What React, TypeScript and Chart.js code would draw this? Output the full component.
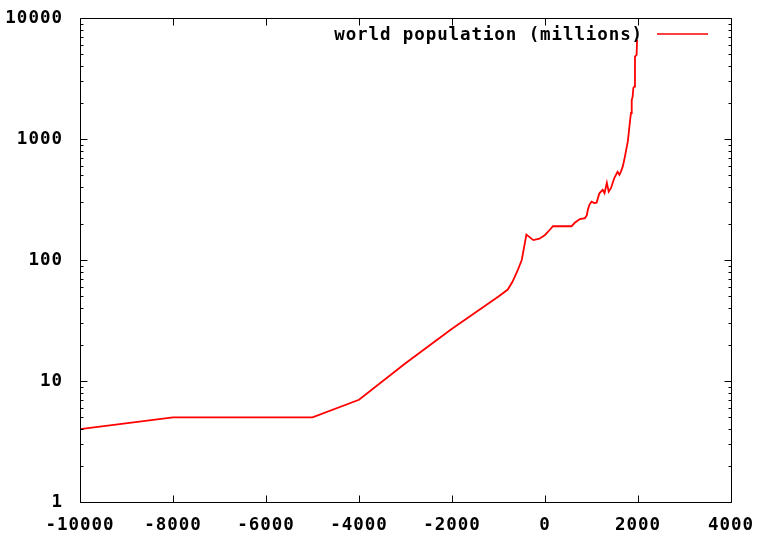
import React, { useEffect, useRef } from "react";
import { Chart, registerables } from "chart.js";

Chart.register(...registerables);

const legendLabel = "world population (millions)";

const years = [
  -10000, -8000, -5000, -4000, -3000, -2000, -1000, -800, -700, -600, -500, -400,
  -250, -120, 0, 100, 170, 570, 640, 750, 860, 900, 920, 955, 1000, 1060, 1110,
  1170, 1240, 1280, 1330, 1370, 1420, 1490, 1560, 1600, 1630, 1670, 1705, 1745,
  1780, 1800, 1830, 1850, 1865, 1885, 1900, 1920, 1935, 1970, 1980,
];

const population = [
  4, 5, 5, 7, 14, 27, 50, 57, 66, 80, 100, 162,
  146, 150, 161, 177, 190, 190, 203, 218, 222, 235, 259, 286, 303, 295, 298,
  356, 380, 356, 434, 367, 394, 475, 535, 506, 535, 588, 673, 810,
  950, 1110, 1430, 1640, 2100, 2240, 2640, 2710, 4800, 4950, 6600,
];

const xTicks = [-10000, -8000, -6000, -4000, -2000, 0, 2000, 4000];
const yTicks = [1, 10, 100, 1000, 10000];
const yMinorFactors = [2, 3, 4, 5, 6, 7, 8, 9];

const FONT_FAMILY = "'DejaVu Sans Mono', 'Liberation Mono', monospace";

const spacingPlugin = {
  id: "letterSpacing",
  beforeUpdate(chart: any) {
    (chart.ctx as any).letterSpacing = "1px";
  },
  beforeDraw(chart: any) {
    (chart.ctx as any).letterSpacing = "1px";
  },
};

const framePlugin = {
  id: "gnuplotFrame",
  afterDraw(chart: any) {
    const { ctx, chartArea, scales } = chart;
    const { left, right, top, bottom } = chartArea;
    const xs = scales.x;
    const ys = scales.y;
    ctx.save();
    ctx.strokeStyle = "#000";
    ctx.lineWidth = 1;
    ctx.beginPath();
    const L = Math.round(left) + 0.5;
    const R = Math.round(right) + 0.5;
    const T = Math.round(top) + 0.5;
    const B = Math.round(bottom) + 0.5;
    ctx.rect(L, T, R - L, B - T);
    const major = 7;
    const minor = 3;
    xTicks.forEach((v) => {
      const px = Math.round(xs.getPixelForValue(v)) + 0.5;
      ctx.moveTo(px, B);
      ctx.lineTo(px, B - major);
      ctx.moveTo(px, T);
      ctx.lineTo(px, T + major);
    });
    yTicks.forEach((v) => {
      const py = Math.round(ys.getPixelForValue(v)) + 0.5;
      ctx.moveTo(L, py);
      ctx.lineTo(L + major, py);
      ctx.moveTo(R, py);
      ctx.lineTo(R - major, py);
    });
    yTicks.slice(0, -1).forEach((d) => {
      yMinorFactors.forEach((k) => {
        const py = Math.round(ys.getPixelForValue(d * k)) + 0.5;
        ctx.moveTo(L, py);
        ctx.lineTo(L + minor, py);
        ctx.moveTo(R, py);
        ctx.lineTo(R - minor, py);
      });
    });
    ctx.stroke();

    // legend (gnuplot style: text left, sample right)
    const ly = Math.round(top) + 16;
    ctx.font = `bold 17.5px ${FONT_FAMILY}`;
    (ctx as any).letterSpacing = "0.9px";
    ctx.fillStyle = "#000";
    ctx.textAlign = "right";
    ctx.textBaseline = "middle";
    const ds = chart.data.datasets[0];
    ctx.fillText(ds.label, right - 88, ly + 1);
    (ctx as any).letterSpacing = "0px";
    ctx.strokeStyle = ds.borderColor;
    ctx.lineWidth = 1.5;
    ctx.beginPath();
    ctx.moveTo(right - 74, ly);
    ctx.lineTo(right - 23, ly);
    ctx.stroke();
    ctx.restore();
  },
};

export default function App() {
  const ref = useRef<HTMLCanvasElement | null>(null);

  useEffect(() => {
    if (!ref.current) return;
    const chart = new Chart(ref.current, {
      type: "line",
      data: {
        datasets: [
          {
            label: legendLabel,
            data: years.map((y, i) => ({ x: y, y: population[i] })),
            borderColor: "#ff0000",
            borderWidth: 1.8,
            pointRadius: 0,
            tension: 0,
            fill: false,
          },
        ],
      },
      options: {
        animation: false,
        responsive: false,
        devicePixelRatio: 1,
        layout: { padding: { top: 18, right: 29, left: 0, bottom: 0 } },
        plugins: {
          legend: { display: false },
          tooltip: { enabled: false },
        },
        scales: {
          x: {
            type: "linear",
            min: -10000,
            max: 4000,
            afterFit: (s: any) => {
              s.height = 34;
              s.paddingLeft = 0;
              s.paddingRight = 0;
            },
            afterBuildTicks: (s: any) => {
              s.ticks = xTicks.map((v) => ({ value: v }));
            },
            grid: { display: false, drawTicks: false },
            border: { display: false },
            ticks: {
              color: "#000",
              padding: 13,
              maxRotation: 0,
              autoSkip: false,
              font: { family: FONT_FAMILY, size: 17.5, weight: "bold" },
              callback: (v: any) => String(v),
            },
          },
          y: {
            type: "logarithmic",
            min: 1,
            max: 10000,
            afterFit: (s: any) => {
              s.width = 80;
              s.paddingTop = 0;
              s.paddingBottom = 0;
            },
            afterBuildTicks: (s: any) => {
              s.ticks = yTicks.map((v) => ({ value: v }));
            },
            grid: { display: false, drawTicks: false },
            border: { display: false },
            ticks: {
              color: "#000",
              padding: 17,
              autoSkip: false,
              font: { family: FONT_FAMILY, size: 17.5, weight: "bold" },
              callback: (v: any) => String(v),
            },
          },
        },
      },
      plugins: [spacingPlugin, framePlugin],
    });
    return () => chart.destroy();
  }, []);

  return (
    <div style={{ position: "absolute", left: 0, top: 0, width: 760, height: 536, background: "#fff" }}>
      <canvas ref={ref} width={760} height={536} style={{ display: "block" }} />
    </div>
  );
}
